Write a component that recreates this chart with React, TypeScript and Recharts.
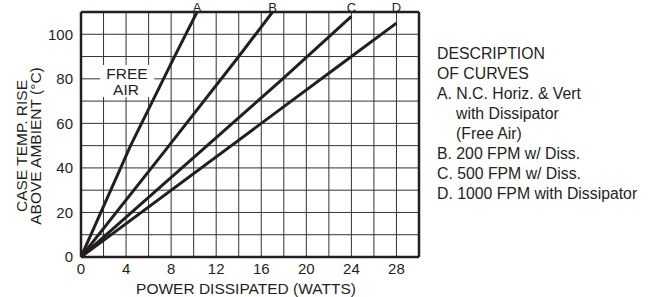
import { ComposedChart, Line, XAxis, YAxis, CartesianGrid, ReferenceLine, ReferenceDot, ReferenceArea } from 'recharts';

const INK = '#231f20';
const FONT = '"Liberation Sans", Arial, Helvetica, sans-serif';

// curves (power W, temp rise °C)
const curveA = [
  { x: 0, y: 0 },
  { x: 4.4, y: 50 },
  { x: 8.3, y: 90 },
  { x: 10.3, y: 110 },
];
const curveB = [
  { x: 0, y: 0 },
  { x: 7.5, y: 48 },
  { x: 14, y: 90 },
  { x: 17, y: 110 },
];
const curveC = [
  { x: 0, y: 0 },
  { x: 17.9, y: 80 },
  { x: 24, y: 108 },
];
const curveD = [
  { x: 0, y: 0 },
  { x: 24, y: 90 },
  { x: 28, y: 105 },
];
const curves = [curveA, curveB, curveC, curveD];
const curveNames = ['A', 'B', 'C', 'D'];

const xTicks = [0, 2, 4, 6, 8, 10, 12, 14, 16, 18, 20, 22, 24, 26, 28, 30];
const yTicks = [0, 10, 20, 30, 40, 50, 60, 70, 80, 90, 100, 110];

const descriptionLines = [
  { text: 'DESCRIPTION', indent: false },
  { text: 'OF CURVES', indent: false },
  { text: 'A. N.C. Horiz. & Vert', indent: false },
  { text: 'with Dissipator', indent: true },
  { text: '(Free Air)', indent: true },
  { text: 'B. 200 FPM w/ Diss.', indent: false },
  { text: 'C. 500 FPM w/ Diss.', indent: false },
  { text: 'D. 1000 FPM with Dissipator', indent: false },
];

const tickStyle = { fill: INK, fontSize: 15, fontFamily: FONT };

const YLabel = () => (
  <g fontFamily={FONT} fontSize={15.5} fill={INK} textAnchor="middle">
    <text transform="translate(27,146) rotate(-90)">CASE TEMP. RISE</text>
    <text transform="translate(41,146) rotate(-90)">ABOVE AMBIENT (°C)</text>
  </g>
);

const FreeAirLabel = () => (
  <g fontFamily={FONT} fontSize={15.5} fill={INK} textAnchor="middle">
    <text x={127} y={78.5}>FREE</text>
    <text x={126} y={95}>AIR</text>
  </g>
);

export default function App() {
  return (
    <div style={{ position: 'absolute', left: 0, top: 0, width: 655, height: 297, background: '#fff' }}>
      <ComposedChart width={655} height={297} margin={{ top: 12, right: 236, bottom: 0, left: 0 }}>
        <CartesianGrid stroke="#333" strokeWidth={1} />
        <XAxis
          type="number"
          dataKey="x"
          domain={[0, 30]}
          ticks={xTicks}
          interval={0}
          height={40}
          tickLine={false}
          tickMargin={0}
          tick={tickStyle}
          tickFormatter={(v: number) => (v % 4 === 0 && v < 30 ? String(v) : '')}
          axisLine={{ stroke: INK, strokeWidth: 2.5 }}
          allowDataOverflow
          label={() => (
            <text x={246} y={293.5} textAnchor="middle" fontFamily={FONT} fontSize={15.5} fill={INK}>
              POWER DISSIPATED (WATTS)
            </text>
          )}
        />
        <YAxis
          type="number"
          domain={[0, 110]}
          ticks={yTicks}
          interval={0}
          width={81}
          tickLine={false}
          tick={tickStyle}
          tickFormatter={(v: number) => (v % 20 === 0 && v <= 100 ? String(v) : '')}
          axisLine={{ stroke: INK, strokeWidth: 2.5 }}
          allowDataOverflow
          label={() => <YLabel />}
        />
        <ReferenceLine y={110} stroke={INK} strokeWidth={2.5} />
        <ReferenceLine x={30} stroke={INK} strokeWidth={2.5} />
        <ReferenceArea x1={1.7} x2={6.5} y1={71.8} y2={86.2} fill="#fff" fillOpacity={1} stroke="none" label={() => <FreeAirLabel />} />
        {curves.map((c, i) => (
          <Line
            key={curveNames[i]}
            data={c}
            dataKey="y"
            type="linear"
            stroke={INK}
            strokeWidth={3}
            dot={false}
            activeDot={false}
            isAnimationActive={false}
          />
        ))}
        {curves.map((c, i) => (
          <ReferenceDot
            key={'lbl' + curveNames[i]}
            x={c[c.length - 1].x}
            y={110}
            r={0}
            stroke="none"
            ifOverflow="visible"
            label={{ value: curveNames[i], position: 'top', offset: 0, fill: INK, fontSize: 13, fontFamily: FONT }}
          />
        ))}
      </ComposedChart>
      <div
        style={{
          position: 'absolute',
          left: 437,
          top: 44,
          fontFamily: FONT,
          fontSize: 15.8,
          lineHeight: '20px',
          color: INK,
          whiteSpace: 'nowrap',
        }}
      >
        {descriptionLines.map((l) => (
          <div key={l.text} style={{ paddingLeft: l.indent ? 19 : 0 }}>
            {l.text}
          </div>
        ))}
      </div>
    </div>
  );
}
